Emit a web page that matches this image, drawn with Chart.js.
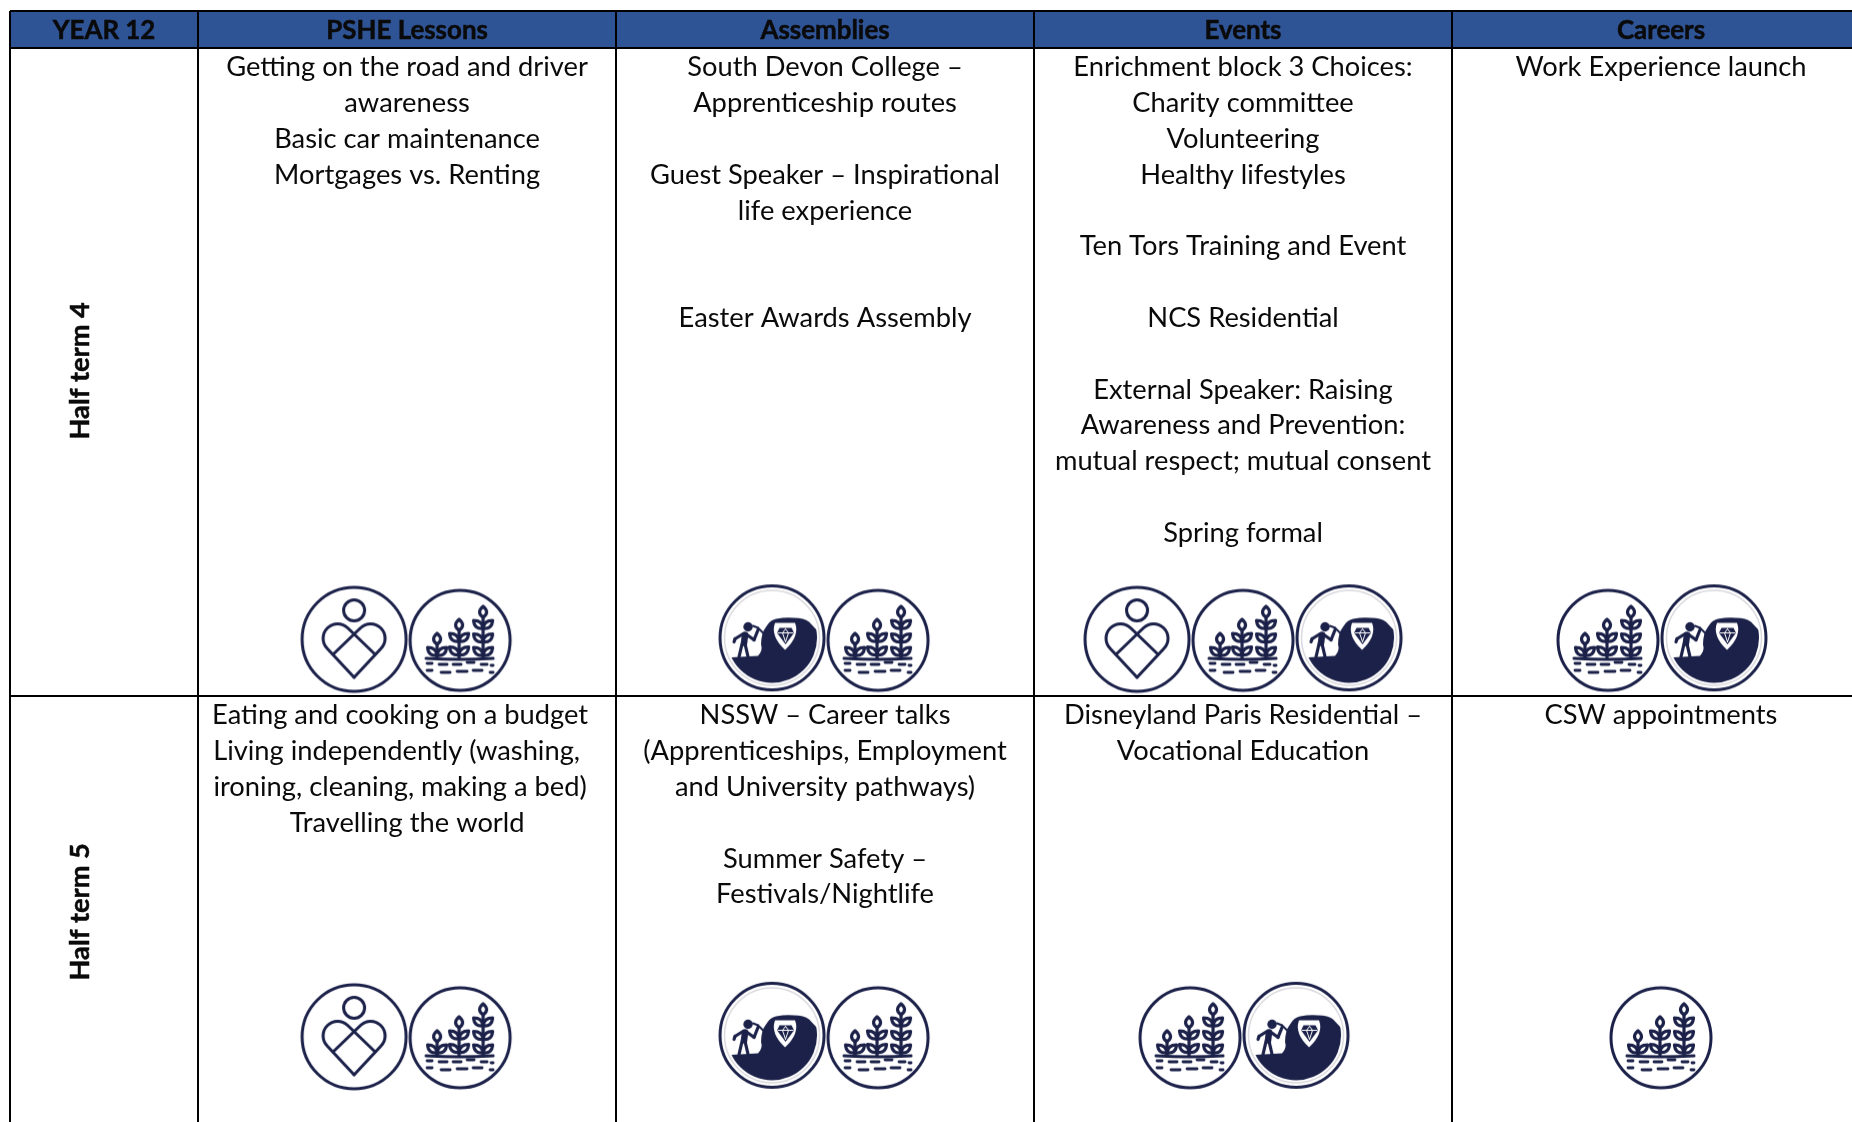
<!DOCTYPE html>
<html>
<head>
<meta charset="utf-8">
<title>Year 12</title>
<script src="https://cdn.jsdelivr.net/npm/chart.js@4"></script>
<style>
  html, body { margin: 0; padding: 0; background: #fff; }
  canvas { display: block; }
</style>
</head>
<body>
<canvas id="table" width="1852" height="1122"></canvas>
<script>
// The table is a chart: one x unit is one content column, one y unit is one line of text
const columnHeaders = ["YEAR 12", "PSHE Lessons", "Assemblies", "Events", "Careers"];
const termLabels = ["Half term 4", "Half term 5"];
const columnEdges = [-0.45, 0, 1, 2, 3];
const rowEdges = [-1.03, 0, 18.1];
const termCentres = [9.02, 24.13];
const iconLevels = [16.52, 27.62];

// the trailing spaces are in the source table and push those lines left of centre
const pshe = [
    ["Getting on the road and driver", "awareness", "Basic car maintenance", "Mortgages vs. Renting"],
    ["Eating and cooking on a budget  ", "Living independently (washing,   ", "ironing, cleaning, making a bed)  ", "Travelling the world"]
];
const assemblies = [
    ["South Devon College \u2013", "Apprenticeship routes", "", "Guest Speaker \u2013 Inspirational", "life experience", "", "", "Easter Awards Assembly"],
    ["NSSW \u2013 Career talks", "(Apprenticeships, Employment", "and University pathways)", "", "Summer Safety \u2013", "Festivals/Nightlife"]
];
const events = [
    ["Enrichment block 3 Choices:", "Charity committee", "Volunteering", "Healthy lifestyles", "", "Ten Tors Training and Event", "", "NCS Residential", "",
     "External Speaker: Raising", "Awareness and Prevention:", "mutual respect; mutual consent", "", "Spring formal"],
    ["Disneyland Paris Residential \u2013", "Vocational Education"]
];
const careers = [
    ["Work Experience launch"],
    ["CSW appointments"]
];
const cellColumns = [pshe, assemblies, events, careers];

// which icons sit at the foot of each cell, [row][column]
const cellIcons = [
    [["heart", "leaf"], ["miner", "leaf"], ["heart", "leaf", "miner"], ["leaf", "miner"]],
    [["heart", "leaf"], ["miner", "leaf"], ["leaf", "miner"], ["leaf"]]
];

const navy = "#1b2149";
const ink = "#0a0a0a";
const headerBlue = "#2f5496";
const iconStep = 0.2536;
const bodyFont = "27.3px Lato";
const headFont = "bold 25.9px Lato";
const termFont = "bold 27.2px Lato";

function makeIcon(size, draw) {
    var c = document.createElement("canvas");
    c.width = size;
    c.height = size;
    var ctx = c.getContext("2d");
    ctx.translate(size / 2, size / 2);
    ctx.strokeStyle = navy;
    ctx.fillStyle = navy;
    ctx.lineCap = "round";
    ctx.lineJoin = "round";
    draw(ctx);
    return c;
}

function line(ctx, x1, y1, x2, y2) {
    ctx.beginPath();
    ctx.moveTo(x1, y1);
    ctx.lineTo(x2, y2);
    ctx.stroke();
}

function drawHeart(ctx) {
    ctx.lineWidth = 3;
    ctx.beginPath();
    ctx.arc(0, 0, 52, 0, Math.PI * 2);
    ctx.stroke();
    ctx.beginPath();
    ctx.arc(0, -29, 10.5, 0, Math.PI * 2);
    ctx.stroke();
    // two lobes, each running on as a straight line across the heart
    [-1, 1].forEach(function(side) {
        ctx.beginPath();
        ctx.moveTo(0, 38);
        ctx.lineTo(side * 26.8, 9.3);
        if (side < 0) {
            ctx.arc(-16.5, -1, 14.5, Math.PI * 0.75, Math.PI * 1.75);
        } else {
            ctx.arc(16.5, -1, 14.5, Math.PI * 0.25, -Math.PI * 0.75, true);
        }
        ctx.lineTo(-side * 21, 15);
        ctx.stroke();
    });
}

function drawPlant(ctx, x, tiers, tipY) {
    ctx.lineWidth = 3.2;
    line(ctx, x, tipY + 10, x, 18);
    ctx.beginPath();
    ctx.moveTo(x, tipY + 11);
    ctx.quadraticCurveTo(x - 7, tipY + 6, x, tipY);
    ctx.quadraticCurveTo(x + 7, tipY + 6, x, tipY + 11);
    ctx.stroke();
    for (let i = 0; i < tiers; i++) {
        var y = tipY + 22 + i * 13.5;
        [-1, 1].forEach(function(side) {
            ctx.beginPath();
            ctx.moveTo(x, y);
            ctx.quadraticCurveTo(x + side * 9, y + 1, x + side * 9.5, y - 8);
            ctx.quadraticCurveTo(x + side * 1, y - 8, x, y);
            ctx.stroke();
        });
    }
}

function drawLeaf(ctx) {
    ctx.translate(0, 1);
    ctx.lineWidth = 3;
    ctx.beginPath();
    ctx.arc(0, 0, 50, 0, Math.PI * 2);
    ctx.stroke();
    drawPlant(ctx, -23, 1, -7);
    drawPlant(ctx, -1, 2, -21);
    drawPlant(ctx, 23, 3, -34);
    ctx.lineWidth = 3;
    ctx.beginPath();
    ctx.moveTo(-34, 18);
    ctx.quadraticCurveTo(0, 20, 33, 18);
    ctx.stroke();
    ctx.lineWidth = 2.8;
    [[-33, -28, 23], [-21, -13, 24], [-7, 1, 24], [7, 14, 22], [21, 27, 24], [31, 33, 25],
     [-33, -28, 30], [-19, -10, 32], [-3, 7, 31], [13, 22, 30], [30, 33, 32]].forEach(function(d) {
        line(ctx, d[0], d[2], d[1], d[2]);
    });
}

function drawMiner(ctx) {
    ctx.translate(0, -1.5);
    ctx.lineWidth = 3;
    ctx.beginPath();
    ctx.arc(0, 0, 52, 0, Math.PI * 2);
    ctx.stroke();
    ctx.strokeStyle = "#d9d9de";
    ctx.lineWidth = 1.5;
    ctx.beginPath();
    ctx.arc(0, 0, 47.5, 0, Math.PI * 2);
    ctx.stroke();
    ctx.strokeStyle = navy;
    ctx.save();
    ctx.beginPath();
    ctx.arc(0, 0, 45, 0, Math.PI * 2);
    ctx.clip();
    ctx.beginPath();
    ctx.moveTo(-50, 20);
    ctx.lineTo(-14, 18);
    ctx.quadraticCurveTo(-9, 12, -11, 7);
    ctx.quadraticCurveTo(-11, -5, -6, -11);
    ctx.quadraticCurveTo(-2, -18, 4, -19);
    ctx.quadraticCurveTo(14, -21, 22, -20);
    ctx.quadraticCurveTo(32, -20, 37, -16);
    ctx.lineTo(52, 0);
    ctx.lineTo(52, 52);
    ctx.lineTo(-52, 52);
    ctx.closePath();
    ctx.fill();
    ctx.restore();
    // gem in its white shield
    ctx.fillStyle = "#fff";
    ctx.beginPath();
    ctx.moveTo(3, -15);
    ctx.lineTo(23, -15);
    ctx.quadraticCurveTo(28, -2, 13, 12);
    ctx.quadraticCurveTo(-2, -2, 3, -15);
    ctx.fill();
    ctx.fillStyle = navy;
    ctx.beginPath();
    ctx.moveTo(7.5, -10);
    ctx.lineTo(19.5, -10);
    ctx.lineTo(22, -5);
    ctx.lineTo(13.5, 6.5);
    ctx.lineTo(5, -5);
    ctx.closePath();
    ctx.fill();
    ctx.strokeStyle = "#fff";
    ctx.lineWidth = 1;
    line(ctx, 6, -5, 21, -5);
    line(ctx, 10.5, -5, 13.5, 4);
    line(ctx, 16.5, -5, 13.5, 4);
    line(ctx, 13.5, -9, 10.5, -5);
    line(ctx, 13.5, -9, 16.5, -5);
    // the miner and his pick
    ctx.strokeStyle = navy;
    ctx.beginPath();
    ctx.arc(-24, -11, 4.7, 0, Math.PI * 2);
    ctx.fill();
    ctx.lineWidth = 6.5;
    line(ctx, -27, -3, -28, 5);
    ctx.lineWidth = 3.2;
    line(ctx, -29, -4, -37, 1);
    line(ctx, -37, 1, -38, 4);
    line(ctx, -25, -3, -18, 2);
    line(ctx, -18, 2, -14, -8);
    line(ctx, -30, 6, -33, 19);
    line(ctx, -27, 6, -24, 19);
    ctx.lineWidth = 2;
    line(ctx, -19, -12, -14, -10);
    line(ctx, -14, -10, -8, -4);
}

const iconImages = {
    heart: makeIcon(112, drawHeart),
    leaf: makeIcon(112, drawLeaf),
    miner: makeIcon(116, drawMiner)
};

function cellTextPoints() {
    var points = [];
    cellColumns.forEach(function(col, c) {
        col.forEach(function(lines, r) {
            lines.forEach(function(text, i) {
                points.push({ x: c + 0.5, y: rowEdges[r + 1] + 0.55 + i, text: text });
            });
        });
    });
    return points;
}

function iconPoints(name) {
    var points = [];
    cellIcons.forEach(function(row, r) {
        row.forEach(function(icons, c) {
            icons.forEach(function(icon, i) {
                if (icon == name) {
                    points.push({ x: c + 0.5 + (i - (icons.length - 1) / 2) * iconStep, y: iconLevels[r] });
                }
            });
        });
    });
    return points;
}

function headerPoints() {
    return columnHeaders.map(function(text, i) {
        var left = columnEdges[i];
        var right = i + 1 < columnEdges.length ? columnEdges[i + 1] : left + 1;
        return { x: (left + right) / 2, y: -0.475, text: text };
    });
}

function termPoints() {
    return termLabels.map(function(text, i) {
        return { x: -0.283, y: termCentres[i], text: text };
    });
}

function textDataset(id, data) {
    return { label: id, type: "scatter", data: data, pointRadius: 0, showLine: false };
}

function iconDataset(name) {
    return { label: name, type: "scatter", data: iconPoints(name), pointStyle: iconImages[name], pointRadius: 10, showLine: false };
}

// Chart.js has no text marks, so the labels are painted at their points' positions
const tableText = {
    id: "tableText",
    afterDatasetsDraw(chart) {
        var ctx = chart.ctx;
        chart.data.datasets.forEach(function(dataset, d) {
            if (!dataset.label.endsWith("Text")) {
                return;
            }
            var meta = chart.getDatasetMeta(d);
            dataset.data.forEach(function(point, i) {
                var el = meta.data[i];
                ctx.save();
                ctx.translate(el.x, el.y);
                ctx.textAlign = "center";
                ctx.textBaseline = "middle";
                ctx.fillStyle = ink;
                ctx.strokeStyle = ink;
                ctx.lineWidth = 0.5;
                ctx.font = bodyFont;
                if (dataset.label == "headerText") {
                    ctx.font = headFont;
                    ctx.strokeText(point.text, 0, 0);
                }
                if (dataset.label == "termText") {
                    ctx.font = termFont;
                    ctx.rotate(-Math.PI / 2);
                    ctx.strokeText(point.text, 0, 0);
                }
                ctx.fillText(point.text, 0, 0);
                ctx.restore();
            });
        });
    }
};

new Chart(document.getElementById("table"), {
    type: "line",
    data: {
        datasets: [
            {
                label: "headerBand",
                data: [{ x: -0.45, y: 0 }, { x: 3.957, y: 0 }],
                backgroundColor: headerBlue,
                borderWidth: 0,
                pointRadius: 0,
                fill: { value: -1.03 }
            },
            iconDataset("heart"),
            iconDataset("leaf"),
            iconDataset("miner"),
            textDataset("headerText", headerPoints()),
            textDataset("termText", termPoints()),
            textDataset("cellText", cellTextPoints())
        ]
    },
    options: {
        responsive: false,
        animation: false,
        events: [],
        layout: { autoPadding: false, padding: { left: 10, top: 11, right: 0, bottom: 0 } },
        plugins: { legend: { display: false }, tooltip: { enabled: false } },
        scales: {
            x: {
                type: "linear",
                min: -0.45,
                max: 3.957,
                afterBuildTicks: function(scale) {
                    scale.ticks = columnEdges.map(function(v) { return { value: v }; });
                },
                ticks: { display: false },
                border: { display: false },
                grid: { color: "#000", lineWidth: 2, drawTicks: false, z: 1 }
            },
            y: {
                type: "linear",
                reverse: true,
                min: -1.03,
                max: 30,
                afterBuildTicks: function(scale) {
                    scale.ticks = rowEdges.map(function(v) { return { value: v }; });
                },
                ticks: { display: false },
                border: { display: false },
                grid: { color: "#000", lineWidth: 2, drawTicks: false, z: 1 }
            }
        }
    },
    plugins: [tableText]
});
</script>
</body>
</html>
